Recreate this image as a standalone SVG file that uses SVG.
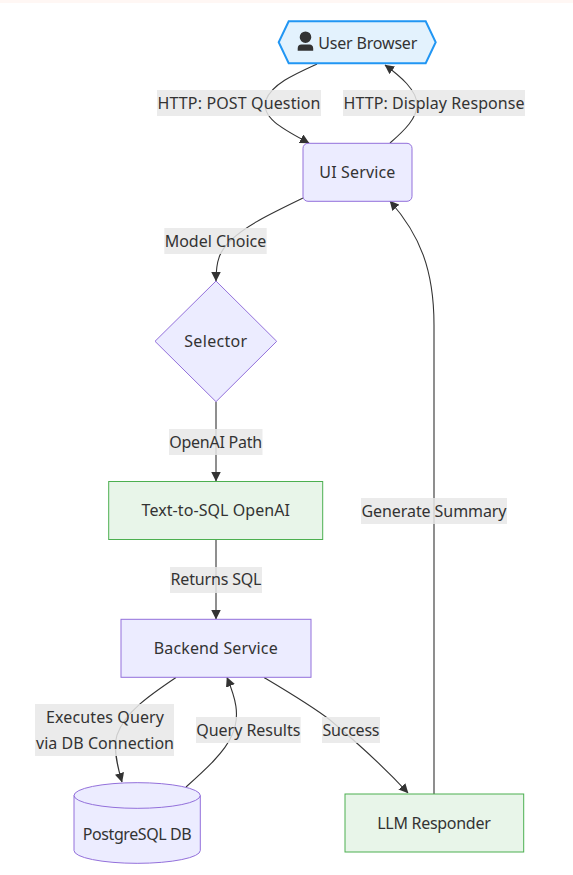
<svg xmlns="http://www.w3.org/2000/svg" width="573" height="875" viewBox="0 0 573 875">
<style>
text{font-family:"Noto Sans","Open Sans",sans-serif;font-size:16px;fill:#333;text-anchor:middle}
.n{fill:#ececff;stroke:#9370db;stroke-width:1}
.g{fill:#e8f5e9;stroke:#4caf50;stroke-width:1}
.e{fill:none;stroke:#333;stroke-width:1.1}
.l{fill:#e8e8e8;fill-opacity:.85}
</style>
<defs>
<marker id="a" viewBox="0 0 10 10" refX="9.500" refY="5" markerWidth="9.500" markerHeight="9.500" markerUnits="userSpaceOnUse" orient="auto"><path d="M0 0L10 5L0 10z" fill="#333"/></marker>
</defs>
<rect width="573" height="3" fill="#fff7f4"/>
<g id="connectors">
<path class="e" marker-end="url(#a)" d="M317 64C295 74 272 84 266 100C260 118 285 130 309 143"/>
<path class="e" marker-end="url(#a)" d="M390 143C405 130 417 118 417 105C417 90 400 76 385 65"/>
<path class="e" marker-end="url(#a)" d="M303 198C270 214 245 226 230 241C220 251 216 260 216 281"/>
<path class="e" marker-end="url(#a)" d="M216 402L216 481"/>
<path class="e" marker-end="url(#a)" d="M216 540L216 619"/>
<path class="e" marker-end="url(#a)" d="M176 677.500C150 695 125 712 117 735C113 748 117 765 122 782"/>
<path class="e" marker-end="url(#a)" d="M186 787C205 770 225 752 232 735C241 715 235 697 227 677.500"/>
<path class="e" marker-end="url(#a)" d="M264 677.500C290 693 312 706 330 720C360 745 385 768 408 793"/>
<path class="e" marker-end="url(#a)" d="M434 794L434 325C434 270 420 235 390 201"/>
</g>
<g id="user-browser">
<path d="M288.700 21.300H425.700L435.700 42.300L425.700 63.300H288.700L278.700 42.300Z" fill="#e3f2fd" stroke="#2196f3" stroke-width="2"/>
<path d="M305.500 43A5.800 5.800 0 1 0 305.500 31.400A5.800 5.800 0 1 0 305.500 43ZM309.500 44.500H301.500A4 4 0 0 0 297.700 48.500V50.700H313.200V48.500A4 4 0 0 0 309.500 44.500Z" fill="#333"/>
<text x="367.800" y="48.500" textLength="99">User Browser</text>
</g>
<g id="ui-service"><rect class="n" x="303" y="143.300" width="109" height="58" rx="5"/><text x="357.300" y="177.500" textLength="76">UI Service</text></g>
<g id="selector"><path class="n" d="M216 281L276.700 341.300L216 401.700L155 341.300Z"/><text x="215.700" y="346.800" textLength="63">Selector</text></g>
<g id="text-to-sql"><rect class="g" x="108.700" y="481.500" width="214" height="58"/><text x="215.800" y="516" textLength="148.500">Text-to-SQL OpenAI</text></g>
<g id="backend"><rect class="n" x="121" y="619.300" width="190" height="58"/><text x="215.700" y="653.500" textLength="124">Backend Service</text></g>
<g id="db"><path class="n" d="M74 795.500A63 12.800 0 0 1 200.300 795.500V850.500A63 12.800 0 0 1 74 850.500Z"/><path class="n" style="fill:none" d="M74 795.500A63 12.800 0 0 0 200.300 795.500"/><text x="137.200" y="839.500" textLength="109">PostgreSQL DB</text></g>
<g id="llm"><rect class="g" x="345" y="794" width="178.700" height="58"/><text x="434" y="828.500" textLength="113.500">LLM Responder</text></g>
<g id="edge-labels">
<rect class="l" x="157" y="90" width="164" height="26"/><text x="239" y="108.500" textLength="163">HTTP: POST Question</text>
<rect class="l" x="343" y="90" width="182" height="26"/><text x="434" y="108.500" textLength="181">HTTP: Display Response</text>
<rect class="l" x="164.300" y="228" width="102.400" height="26"/><text x="215.500" y="246.500" textLength="101.500">Model Choice</text>
<rect class="l" x="169" y="429" width="93.500" height="26"/><text x="215.700" y="447.500" textLength="93">OpenAI Path</text>
<rect class="l" x="170" y="567" width="92" height="26"/><text x="216" y="585" textLength="91">Returns SQL</text>
<rect class="l" x="361" y="498" width="146" height="26"/><text x="434" y="516.500" textLength="145">Generate Summary</text>
<rect class="l" x="35" y="704" width="139" height="52"/><text x="105" y="722.500" textLength="118">Executes Query</text><text x="105" y="748.500" textLength="138">via DB Connection</text>
<rect class="l" x="196" y="717" width="104.700" height="26"/><text x="248.300" y="735.500" textLength="104">Query Results</text>
<rect class="l" x="322" y="717" width="58" height="26"/><text x="351" y="735.500" textLength="57">Success</text>
</g>
</svg>
